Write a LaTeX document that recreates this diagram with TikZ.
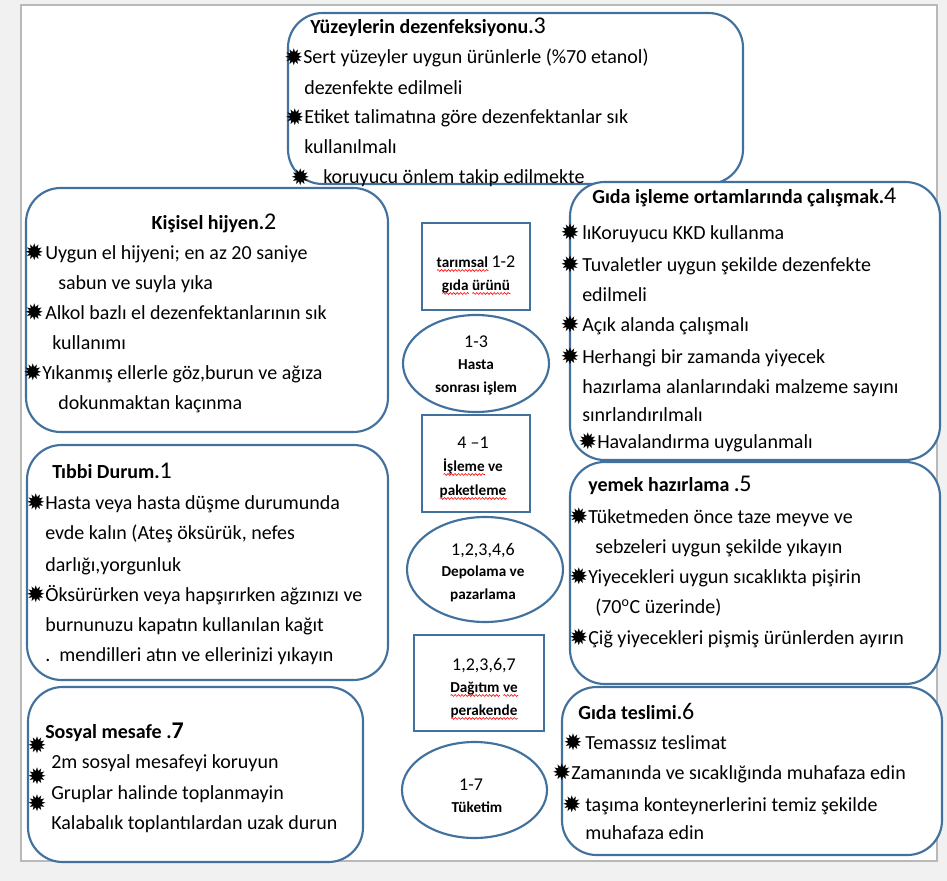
\documentclass[tikz,border=0pt]{standalone}
\usepackage{fontspec}
\setmainfont{Carlito}
\newfontfamily\symf{DejaVu Sans}
\usetikzlibrary{shapes.geometric,decorations.pathmorphing}
\definecolor{boxblue}{RGB}{65,113,156}
\newsavebox\wavebox
\newcommand\redwave[1]{\sbox\wavebox{#1}\rlap{\raisebox{-2.6pt}[0pt][0pt]{\tikz[baseline=0pt]\draw[red,line width=0.45pt,decorate,decoration={snake,amplitude=0.7pt,segment length=2.6pt}] (0pt,0pt) -- (\wd\wavebox,0pt);}}\usebox\wavebox}
\newcommand\bul[1][3pt]{\llap{\raisebox{-0.8pt}{\symf\fontsize{17}{17}\selectfont ✹}\hspace*{#1}}}
\newcommand\bignum[1]{{\mdseries\fontsize{18}{18}\selectfont #1}}
\begin{document}
\begin{tikzpicture}[x=0.75pt,y=-0.75pt,
  bigbox/.style={draw=boxblue,line width=1.6pt,fill=white,rounded corners=26pt,inner sep=0pt},
  rectbox/.style={draw=boxblue,line width=1.6pt,fill=white,inner sep=0pt},
  ellbox/.style={ellipse,draw=boxblue,line width=1.6pt,fill=white,inner sep=0pt},
  txt/.style={anchor=base west,inner sep=0pt,font=\fontsize{15}{18}\selectfont},
  ttl/.style={anchor=base west,inner sep=0pt,font=\fontsize{15}{18}\selectfont\bfseries},
  ctr/.style={anchor=base,inner sep=0pt,font=\fontsize{11.4}{13}\selectfont\bfseries},
  num/.style={anchor=base,inner sep=0pt,font=\fontsize{13.5}{15}\selectfont},
  sym/.style={inner sep=0pt,font=\symf\fontsize{17}{17}\selectfont}]
\useasboundingbox (0,0) rectangle (947,881);
\fill[gray!11] (0,0) rectangle (947,881);
\draw[gray!55,line width=1.5pt,fill=white] (21,5) rectangle (937,861);

% big boxes
\node[bigbox,minimum width=341.25pt,minimum height=128.25pt] (b3) at (515.5,98.5) {};
\node[bigbox,minimum width=271.5pt,minimum height=183pt] (b2) at (207,310) {};
\node[bigbox,minimum width=277.5pt,minimum height=208.5pt] (b4) at (755,321) {};
\node[bigbox,minimum width=270.75pt,minimum height=176.25pt] (b1) at (207.5,562.5) {};
\node[bigbox,minimum width=277.5pt,minimum height=166.5pt] (b5) at (755,573) {};
\node[bigbox,minimum width=251.25pt,minimum height=131.25pt] (b7) at (195.5,774.5) {};
\node[bigbox,minimum width=285pt,minimum height=126pt] (b6) at (752,771) {};

% center shapes
\node[rectbox,minimum width=81pt,minimum height=65.25pt] (r1) at (476,266.5) {};
\node[ellbox,minimum width=109.5pt,minimum height=72.75pt] (e1) at (476,363.5) {};
\node[rectbox,minimum width=81pt,minimum height=72.75pt] (r2) at (476,463.5) {};
\node[ellbox,minimum width=117pt,minimum height=78.75pt] (e2) at (485,569.5) {};
\node[rectbox,minimum width=97.5pt,minimum height=72pt] (r3) at (479,683) {};
\node[ellbox,minimum width=108.75pt,minimum height=72pt] (e3) at (474.5,790) {};

% center texts
\node[ctr] (r1a) at (476,267) {\redwave{tarımsal}\ {\mdseries\fontsize{13.5}{15}\selectfont 1-2}};
\node[ctr] (r1b) at (476,290) {\redwave{gıda} \redwave{ürünü}};
\node[num] (e1a) at (476,347) {1-3};
\node[ctr] (e1b) at (476,369) {Hasta};
\node[ctr] (e1c) at (476,392) {sonrası işlem};
\node[num] (r2a) at (473,448) {4 --1};
\node[ctr] (r2b) at (473,471) {\redwave{İşleme} ve};
\node[ctr] (r2c) at (473,495) {\redwave{paketleme}};
\node[num] (e2a) at (483,555) {1,2,3,4,6};
\node[ctr] (e2b) at (483,576) {Depolama ve};
\node[ctr] (e2c) at (483,599) {pazarlama};
\node[num] (r3a) at (484,670) {1,2,3,6,7};
\node[ctr] (r3b) at (484,692) {\redwave{Dağıtım} \redwave{ve}};
\node[ctr] (r3c) at (484,715) {\redwave{perakende}};
\node[num] (e3a) at (471,790) {1-7};
\node[ctr] (e3b) at (477,812) {Tüketim};

% box 3
\node[ttl] (t3) at (310,34) {Yüzeylerin dezenfeksiyonu.\bignum{3}};
\node[txt] (l3a) at (303,64) {\bul[0pt]Sert yüzeyler uygun ürünlerle (\%70 etanol)};
\node[txt] (l3b) at (304,94) {dezenfekte edilmeli};
\node[txt] (l3c) at (304,124) {\bul[0pt]Etiket talimatına göre dezenfektanlar sık};
\node[txt] (l3d) at (304,154) {kullanılmalı};
\node[txt] (l3e) at (323,184) {\bul[10pt]koruyucu önlem takip edilmekte};

% box 2
\node[ttl,anchor=base] (t2) at (214,229) {Kişisel hijyen.\bignum{2}};
\node[txt] (l2a) at (45,259) {\bul[1pt]Uygun el hijyeni; en az 20 saniye};
\node[txt] (l2b) at (58,289) {sabun ve suyla yıka};
\node[txt] (l2c) at (45,319) {\bul[1pt]Alkol bazlı el dezenfektanlarının sık};
\node[txt] (l2d) at (52,349) {kullanımı};
\node[txt] (l2e) at (42,379) {\bul[0pt]Yıkanmış ellerle göz,burun ve ağıza};
\node[txt] (l2f) at (58,409) {dokunmaktan kaçınma};

% box 4
\node[ttl] (t4) at (592,203) {Gıda işleme ortamlarında çalışmak.\bignum{4}};
\node[txt] (l4a) at (582,239) {\bul[2pt]lıKoruyucu KKD kullanma};
\node[txt] (l4b) at (582,271) {\bul[2pt]Tuvaletler uygun şekilde dezenfekte};
\node[txt] (l4c) at (582,301) {edilmeli};
\node[txt] (l4d) at (582,331) {\bul[2pt]Açık alanda çalışmalı};
\node[txt] (l4e) at (582,363) {\bul[2pt]Herhangi bir zamanda yiyecek};
\node[txt] (l4f) at (582,393) {hazırlama alanlarındaki malzeme sayını};
\node[txt] (l4g) at (582,421) {sınrlandırılmalı};
\node[txt] (l4h) at (597,448) {\bul[0pt]Havalandırma uygulanmalı};

% box 1
\node[ttl] (t1) at (52,478) {Tıbbi Durum.\bignum{1}};
\node[txt] (l1a) at (45,509) {\bul[0pt]Hasta veya hasta düşme durumunda};
\node[txt] (l1b) at (45,539) {evde kalın (Ateş öksürük, nefes};
\node[txt] (l1c) at (45,571) {darlığı,yorgunluk};
\node[txt] (l1d) at (45,601) {\bul[0pt]Öksürürken veya hapşırırken ağzınızı ve};
\node[txt] (l1e) at (45,631) {burnunuzu kapatın kullanılan kağıt};
\node[txt] (l1f) at (45,661) {.\ \ mendilleri atın ve ellerinizi yıkayın};

% box 5
\node[ttl] (t5) at (588,491) {yemek hazırlama .\bignum{5}};
\node[txt] (l5a) at (588,523) {\bul[0pt]Tüketmeden önce taze meyve ve};
\node[txt] (l5b) at (595,553) {sebzeleri uygun şekilde yıkayın};
\node[txt] (l5c) at (588,583) {\bul[0pt]Yiyecekleri uygun sıcaklıkta pişirin};
\node[txt] (l5d) at (595,613) {(70\textsuperscript{o}C üzerinde)};
\node[txt] (l5e) at (588,644) {\bul[0pt]Çiğ yiyecekleri pişmiş ürünlerden ayırın};

% box 7
\node[ttl] (t7) at (45,738) {Sosyal mesafe .{\fontsize{18}{18}\selectfont 7}};
\node[sym] (s7a) at (37,745) {✹};
\node[sym] (s7b) at (37,776) {✹};
\node[sym] (s7c) at (37,803) {✹};
\node[txt] (l7a) at (51,768) {2m sosyal mesafeyi koruyun};
\node[txt] (l7b) at (51,799) {Gruplar halinde toplanmayin};
\node[txt] (l7c) at (51,829) {Kalabalık toplantılardan uzak durun};

% box 6
\node[ttl] (t6) at (578,719) {Gıda teslimi.\bignum{6}};
\node[txt] (l6a) at (585,749) {\bul[2pt]Temassız teslimat};
\node[txt] (l6b) at (571,779) {\bul[0pt]Zamanında ve sıcaklığında muhafaza edin};
\node[txt] (l6c) at (585,811) {\bul[3pt]taşıma konteynerlerini temiz şekilde};
\node[txt] (l6d) at (585,839) {muhafaza edin};
\end{tikzpicture}
\end{document}
